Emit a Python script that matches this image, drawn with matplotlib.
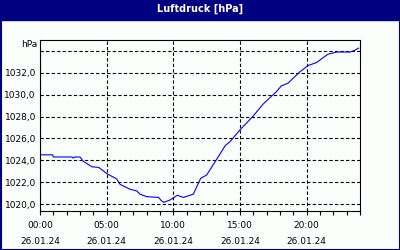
import matplotlib
matplotlib.use("Agg")
import matplotlib.pyplot as plt
from matplotlib.patches import Rectangle
from matplotlib.ticker import MultipleLocator, FixedLocator

hours = [0.0, 0.95, 1.0, 2.4, 2.5, 2.6, 3.0, 3.25, 3.9, 4.4, 5.05, 5.75, 6.0, 6.75, 7.25, 7.5,
         8.0, 8.9, 9.1, 9.3, 9.75, 10.3, 10.75, 11.5, 12.05, 12.5, 13.1, 13.9, 14.25, 15.0,
         16.0, 16.75, 17.75, 18.1, 18.6, 19.5, 20.1, 20.75, 21.25, 21.6, 22.25, 23.25, 23.6, 23.9]
pressure = [1024.5, 1024.5, 1024.3, 1024.3, 1024.2, 1024.3, 1024.3, 1023.9, 1023.4, 1023.35,
            1022.75, 1022.3, 1021.8, 1021.35, 1021.2, 1020.9, 1020.67, 1020.6, 1020.3, 1020.15,
            1020.37, 1020.8, 1020.6, 1020.9, 1022.35, 1022.65, 1023.8, 1025.35, 1025.7, 1026.78,
            1028.06, 1029.16, 1030.3, 1030.8, 1031.05, 1032.1, 1032.66, 1032.94, 1033.4, 1033.7,
            1033.9, 1033.9, 1034.05, 1034.26]
x_ticks = [0, 5, 10, 15, 20]
x_labels = ["00:00\n26.01.24", "05:00\n26.01.24", "10:00\n26.01.24", "15:00\n26.01.24", "20:00\n26.01.24"]
y_ticks = [1020, 1022, 1024, 1026, 1028, 1030, 1032]
y_labels = ["1020,0", "1022,0", "1024,0", "1026,0", "1028,0", "1030,0", "1032,0"]
title = "Luftdruck [hPa]"
unit = "hPa"

navy = "#000080"
bg = "#FBFFFB"
fig = plt.figure(figsize=(4, 2.5), dpi=100, facecolor=bg)
# title bar and border
fig.patches.append(Rectangle((0, 230/250), 1, 20/250, transform=fig.transFigure, color=navy, zorder=0))
fig.patches.append(Rectangle((0.5/400, 0.5/250), 399/400, 249/250, transform=fig.transFigure,
                             fill=False, edgecolor=navy, linewidth=1.5, zorder=5))
fig.text(0.5, 1 - 9/250, title, color="white", fontweight="bold", fontsize=7,
         ha="center", va="center", family="DejaVu Sans")

ax = fig.add_axes([40/400, 39/250, 320/400, 171/250])
ax.set_facecolor(bg)
ax.plot(hours, pressure, color="#0000FF", linewidth=0.8)
ax.set_xlim(0, 24)
ax.set_ylim(1019.36, 1035.0)
ax.xaxis.set_major_locator(FixedLocator(x_ticks))
ax.set_xticklabels(x_labels, fontsize=6.5, linespacing=2.0)
ax.xaxis.set_minor_locator(MultipleLocator(1))
ax.set_yticks(y_ticks + [1034])
ax.set_yticklabels(y_labels + [""], fontsize=6.5)
ax.tick_params(axis="y", length=0, pad=3)
ax.tick_params(axis="x", which="both", direction="out", length=3, width=0.8, pad=4)
ax.grid(True, which="major", color="black", linestyle=(0, (3, 2)), linewidth=0.8)
for s in ax.spines.values():
    s.set_color("black")
    s.set_linewidth(0.8)
ax.text(-3/320*24, 1034.55, unit, fontsize=6.5, ha="right", va="center",
        transform=ax.transData, clip_on=False)
fig.savefig("out.png", dpi=100, facecolor=bg)
